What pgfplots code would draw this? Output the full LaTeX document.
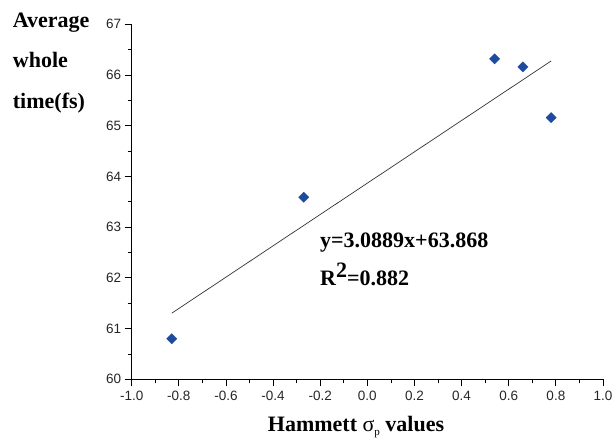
\documentclass[border=0pt]{standalone}
\usepackage{fontspec}
\setmainfont{Liberation Serif}
\newfontfamily\arial{Liberation Sans}
\usepackage{pgfplots}
\pgfplotsset{compat=1.18}
\definecolor{mkblue}{RGB}{30,75,160}
\begin{document}
\begin{tikzpicture}
\path[use as bounding box] (0,0) rectangle (612pt,-441pt);
\begin{axis}[
  at={(131.7pt,-379.3pt)}, anchor=south west,
  scale only axis, width=471.3pt, height=355pt,
  xmin=-1, xmax=1, ymin=60, ymax=67,
  axis x line*=bottom, axis y line*=left,
  axis line style={-, line width=0.8pt, black},
  xtick={-1,-0.8,-0.6,-0.4,-0.2,0,0.2,0.4,0.6,0.8,1},
  xticklabels={-1.0,-0.8,-0.6,-0.4,-0.2,0.0,0.2,0.4,0.6,0.8,1.0},
  ytick={60,61,62,63,64,65,66,67},
  minor tick num=1,
  tick align=outside,
  major tick length=7pt, minor tick length=4pt,
  tick style={black, line width=0.8pt},
  /pgf/number format/assume math mode=true,
  tick label style={font=\arial\fontsize{13.5}{13.5}\selectfont, text=black!85},
  xticklabel style={yshift=-1pt},
  clip=false,
]
\addplot[black!80, line width=0.7pt] coordinates {(-0.83,61.304) (0.78,66.277)};
\addplot[only marks, mark=square*, mark size=3.6pt, mark options={rotate=45, fill=mkblue, draw=mkblue}]
  coordinates {(-0.83,60.80) (-0.27,63.59) (0.54,66.32) (0.66,66.16) (0.78,65.16)};
\end{axis}
\begin{scope}[every node/.style={inner sep=0pt, anchor=base west, font=\bfseries\fontsize{22}{22}\selectfont}]
\node at (12.7pt,-28pt) {Average};
\node at (12.7pt,-68pt) {whole};
\node at (12.7pt,-108pt) {time(fs)};
\node at (320pt,-247pt) {y=3.0889x+63.868};
\node at (320pt,-285pt) {R\raisebox{0.35em}{2}=0.882};
\node[anchor=base] at (356pt,-431pt) {Hammett \textmd{σ}\raisebox{-0.22em}{\fontsize{11}{11}\selectfont\textmd{p}} values};
\end{scope}
\end{tikzpicture}
\end{document}
